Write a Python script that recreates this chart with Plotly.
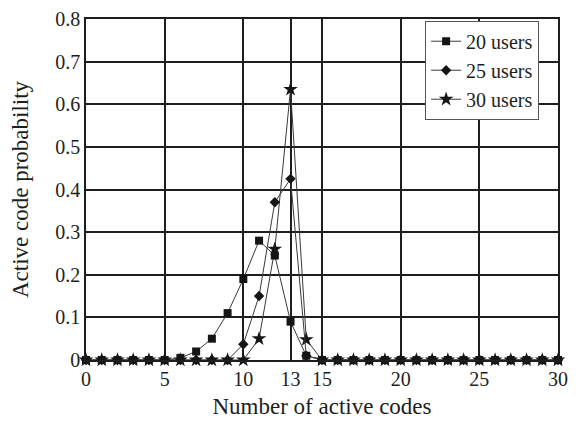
import plotly.graph_objects as go

codes = list(range(0, 31))

p20_nonzero = {6: 0.005, 7: 0.02, 8: 0.05, 9: 0.11, 10: 0.19, 11: 0.28, 12: 0.245, 13: 0.09, 14: 0.01}
p25_nonzero = {10: 0.037, 11: 0.15, 12: 0.37, 13: 0.425, 14: 0.01}
p30_nonzero = {11: 0.05, 12: 0.26, 13: 0.635, 14: 0.048}

users20 = [p20_nonzero.get(k, 0.0) for k in codes]
users25 = [p25_nonzero.get(k, 0.0) for k in codes]
users30 = [p30_nonzero.get(k, 0.0) for k in codes]

x_ticks = [0, 5, 10, 13, 15, 20, 25, 30]
y_ticks = [0, 0.1, 0.2, 0.3, 0.4, 0.5, 0.6, 0.7, 0.8]
y_labels = ["0", "0.1", "0.2", "0.3", "0.4", "0.5", "0.6", "0.7", "0.8"]

font_family = "Liberation Serif"
ink = "#1e1e1e"

fig = go.Figure()
# draw order: 30 users first, then 20, then 25 on top (zero markers appear as diamonds)
series = [
    ("30 users", users30, "star", 11, 3),
    ("20 users", users20, "square", 8, 1),
    ("25 users", users25, "diamond", 8, 2),
]
for name, vals, sym, sz, rank in series:
    fig.add_trace(go.Scatter(
        x=codes, y=vals, name=name, mode="lines+markers", legendrank=rank,
        line=dict(color="#3a3a3a", width=1),
        marker=dict(symbol=sym, size=sz, color="#151515"),
        cliponaxis=False,
    ))

axis_common = dict(
    showline=True, linecolor=ink, linewidth=1.5, mirror=True,
    showgrid=True, gridcolor=ink, gridwidth=1.6,
    zeroline=False, ticks="", automargin=False,
    ticklabeloverflow="allow",
    tickfont=dict(family=font_family, size=20, color=ink),
)

fig.update_xaxes(range=[0, 30], tickmode="array", tickvals=x_ticks,
                 ticktext=[str(t) for t in x_ticks],
                 title=dict(text="Number of active codes", font=dict(family=font_family, size=23, color=ink), standoff=9),
                 **axis_common)
fig.update_yaxes(range=[0, 0.8], tickmode="array", tickvals=y_ticks, ticktext=y_labels,
                 title=dict(text="Active code probability", font=dict(family=font_family, size=23, color=ink), standoff=20),
                 **axis_common)

# the page body adds an 8px offset; size the figure to fill the rest of the window
fig.update_layout(
    width=568, height=419,
    margin=dict(l=78, r=18, t=11, b=67),
    plot_bgcolor="white", paper_bgcolor="white",
    font=dict(family=font_family, color=ink),
    showlegend=True,
    legend=dict(x=0.96, y=0.995, xanchor="right", yanchor="top",
                bgcolor="white", bordercolor="#555555", borderwidth=1,
                font=dict(family=font_family, size=20, color=ink),
                tracegroupgap=0, itemwidth=30, traceorder="normal"),
)

fig.write_html("out.html")
